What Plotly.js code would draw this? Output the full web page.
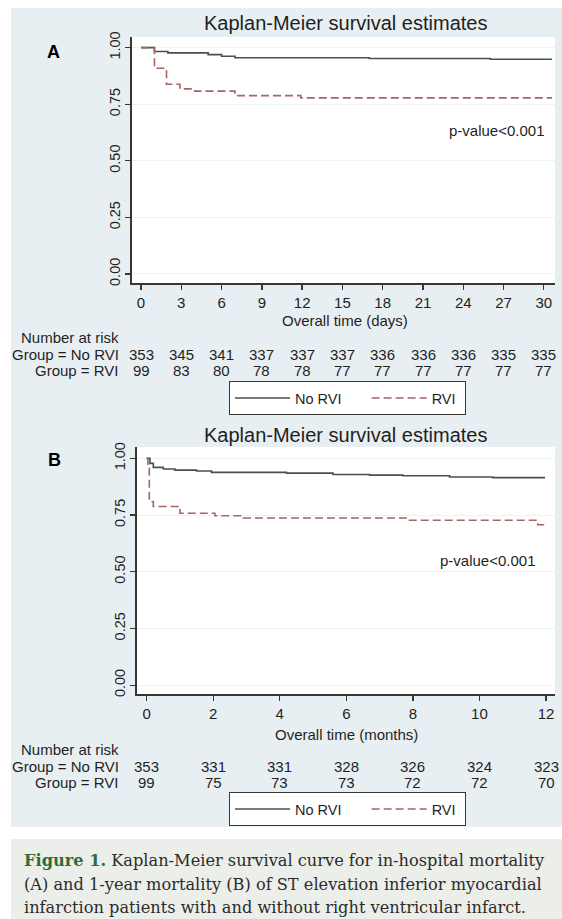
<!DOCTYPE html>
<html><head><meta charset="utf-8">
<script src="https://cdn.plot.ly/plotly-3.0.1.min.js"></script>
<style>html,body{margin:0;padding:0;background:#fff;overflow:hidden;}#chart{width:562px;height:919px;}</style>
</head><body><div id="chart"></div>
<script>
// ---------- data ----------
const dayTicks = [0, 3, 6, 9, 12, 15, 18, 21, 24, 27, 30];
const riskNoRviA = [353, 345, 341, 337, 337, 337, 336, 336, 336, 335, 335];
const riskRviA = [99, 83, 80, 78, 78, 77, 77, 77, 77, 77, 77];
const monthTicks = [0, 2, 4, 6, 8, 10, 12];
const riskNoRviB = [353, 331, 331, 328, 326, 324, 323];
const riskRviB = [99, 75, 73, 73, 72, 72, 70];
const survTicks = [0, 0.25, 0.5, 0.75, 1];
const survTickText = ['0.00', '0.25', '0.50', '0.75', '1.00'];
const groups = ['No RVI', 'RVI'];
const tNoRviA = [0, 1, 2, 5, 6, 7, 17, 26, 30.6];
const sNoRviA = [1, 0.983, 0.977, 0.969, 0.962, 0.955, 0.952, 0.949, 0.949];
const tRviA = [0, 1, 1.9, 2.9, 4, 7, 11.9, 30.6];
const sRviA = [1, 0.909, 0.838, 0.818, 0.808, 0.788, 0.778, 0.778];
const tNoRviB = [0, 0.1, 0.2, 0.5, 0.85, 1.5, 1.95, 4.2, 5.6, 6.7, 7.7, 9.1, 10.4, 11.97];
const sNoRviB = [1, 0.978, 0.96, 0.953, 0.948, 0.944, 0.938, 0.935, 0.929, 0.926, 0.923, 0.918, 0.915, 0.915];
const tRviB = [0, 0.04, 0.08, 0.2, 1.0, 2.05, 2.9, 7.8, 11.75, 11.95];
const sRviB = [1, 0.97, 0.81, 0.788, 0.758, 0.747, 0.737, 0.727, 0.707, 0.707];
const titleText = 'Kaplan-Meier survival estimates';
const pText = 'p-value&lt;0.001';
const captionLines = [
  '<b><span style="color:#2f6b3a">Figure 1.</span></b> Kaplan-Meier survival curve for in-hospital mortality',
  '(A) and 1-year mortality (B) of ST elevation inferior myocardial',
  'infarction patients with and without right ventricular infarct.'
];

// ---------- styling ----------
const W = 562, H = 919;
const px = v => v / W, py = v => 1 - v / H;
const FONT = 'Liberation Sans, Arial, sans-serif';
const AX = '#3a3632', TXT = '#1f1f1f';
const C_NO = '#46524f', C_RVI = '#a36662';
const PANEL = '#e8eff2', CAP = '#eceeea';
const NB = '\u00a0';

function curve(t, s, name, ax, leg, dash, col) {
  return {x: t, y: s, xaxis: ax[0], yaxis: ax[1], type: 'scatter', mode: 'lines', name: name,
    legend: leg, line: {shape: 'hv', color: col, width: 1.6, dash: dash}, hoverinfo: 'skip'};
}
const legName0 = groups[0] + NB.repeat(5), legName1 = groups[1] + NB;
const traces = [
  curve(tNoRviA, sNoRviA, legName0, ['x', 'y'], 'legend', 'solid', C_NO),
  curve(tRviA, sRviA, legName1, ['x', 'y'], 'legend', '8px,4px', C_RVI),
  curve(tNoRviB, sNoRviB, legName0, ['x2', 'y2'], 'legend2', 'solid', C_NO),
  curve(tRviB, sRviB, legName1, ['x2', 'y2'], 'legend2', '8px,4px', C_RVI)
];

function xAx(dom, rng, ticks, anchor) {
  return {domain: dom, range: rng, tickvals: ticks, anchor: anchor, ticks: 'outside', ticklen: 5,
    tickwidth: 1.3, tickcolor: AX, showline: true, linecolor: AX, linewidth: 1.6, showgrid: false,
    zeroline: false, tickfont: {family: FONT, size: 15, color: TXT}, fixedrange: true};
}
function yAx(dom, rng, anchor) {
  return {domain: dom, range: rng, tickvals: survTicks, ticktext: survTickText, tickangle: -90,
    anchor: anchor, ticks: 'outside', ticklen: 5, tickwidth: 1.3, tickcolor: AX, showline: true,
    linecolor: AX, linewidth: 1.6, showgrid: true, gridcolor: '#edf2f4', gridwidth: 1, zeroline: false,
    tickfont: {family: FONT, size: 14.5, color: TXT}, fixedrange: true};
}

const ann = [];
function txt(x, y, text, size, opts) {
  ann.push(Object.assign({x: x, y: y, xref: 'paper', yref: 'paper', text: text, showarrow: false,
    font: {family: FONT, size: size, color: TXT}, xanchor: 'center', yanchor: 'middle'}, opts || {}));
}
function riskNum(ax, x, y, v) {
  ann.push({x: x, xref: ax, y: py(y), yref: 'paper', text: String(v), showarrow: false,
    xanchor: 'center', yanchor: 'middle', font: {family: FONT, size: 15, color: TXT}});
}
// panel A
txt(px(345), py(23), titleText, 20);
txt(px(53), py(52), '<b>A</b>', 18, {font: {family: FONT, size: 18, color: '#000'}});
txt(px(497), py(130), pText, 15);
txt(px(345), py(321), 'Overall time (days)', 15);
txt(px(121), py(337), 'Number at risk', 15, {xanchor: 'right'});
txt(px(121), py(354), 'Group = ' + groups[0], 15, {xanchor: 'right'});
txt(px(121), py(370), 'Group = ' + groups[1], 15, {xanchor: 'right'});
dayTicks.forEach((d, i) => { riskNum('x', d, 354, riskNoRviA[i]); riskNum('x', d, 370, riskRviA[i]); });
// panel B
txt(px(345), py(435), titleText, 20);
txt(px(54), py(460), '<b>B</b>', 18, {font: {family: FONT, size: 18, color: '#000'}});
txt(px(488), py(560), pText, 15);
txt(px(346), py(734), 'Overall time (months)', 15);
txt(px(121), py(749), 'Number at risk', 15, {xanchor: 'right'});
txt(px(121), py(766), 'Group = ' + groups[0], 15, {xanchor: 'right'});
txt(px(121), py(782), 'Group = ' + groups[1], 15, {xanchor: 'right'});
monthTicks.forEach((m, i) => { riskNum('x2', m, 766, riskNoRviB[i]); riskNum('x2', m, 782, riskRviB[i]); });
// caption
[860, 884, 907].forEach((y, i) => {
  ann.push({x: px(22), y: py(y), xref: 'paper', yref: 'paper', showarrow: false, xanchor: 'left',
    yanchor: 'middle', align: 'left', text: captionLines[i],
    font: {family: 'DejaVu Serif, serif', size: 16.2, color: '#2b2b2b'}});
});

const legendBase = {xanchor: 'left', yanchor: 'top', orientation: 'h', bgcolor: '#ffffff',
  bordercolor: '#3a3632', borderwidth: 1, font: {family: FONT, size: 14.5, color: TXT},
  itemwidth: 55, tracegroupgap: 0, itemclick: false, itemdoubleclick: false};

const layout = {
  width: W, height: H, margin: {l: 0, r: 0, t: 0, b: 0}, autosize: false,
  paper_bgcolor: PANEL, plot_bgcolor: '#ffffff', font: {family: FONT, color: TXT},
  xaxis: xAx([px(132), px(555)], [-0.67, 30.83], dayTicks, 'y'),
  yaxis: yAx([py(283), py(37)], [-0.0398, 1.047], 'x'),
  xaxis2: xAx([px(137), px(555)], [-0.29, 12.27], monthTicks, 'y2'),
  yaxis2: yAx([py(694), py(447)], [-0.039, 1.05], 'x2'),
  legend: Object.assign({x: px(229), y: py(381)}, legendBase),
  legend2: Object.assign({x: px(229), y: py(792)}, legendBase),
  showlegend: true,
  annotations: ann,
  shapes: [
    {type: 'rect', xref: 'paper', yref: 'paper', x0: 0, x1: px(11), y0: 0, y1: 1, fillcolor: '#ffffff', line: {width: 0}, layer: 'below'},
    {type: 'rect', xref: 'paper', yref: 'paper', x0: 0, x1: 1, y0: py(8), y1: 1, fillcolor: '#ffffff', line: {width: 0}, layer: 'below'},
    {type: 'rect', xref: 'paper', yref: 'paper', x0: 0, x1: 1, y0: 0, y1: py(827), fillcolor: '#ffffff', line: {width: 0}, layer: 'below'},
    {type: 'rect', xref: 'paper', yref: 'paper', x0: px(11), x1: 1, y0: 0, y1: py(839), fillcolor: CAP, line: {width: 0}, layer: 'below'}
  ]
};
Plotly.newPlot('chart', traces, layout, {staticPlot: true, displayModeBar: false});
</script>
</body></html>
